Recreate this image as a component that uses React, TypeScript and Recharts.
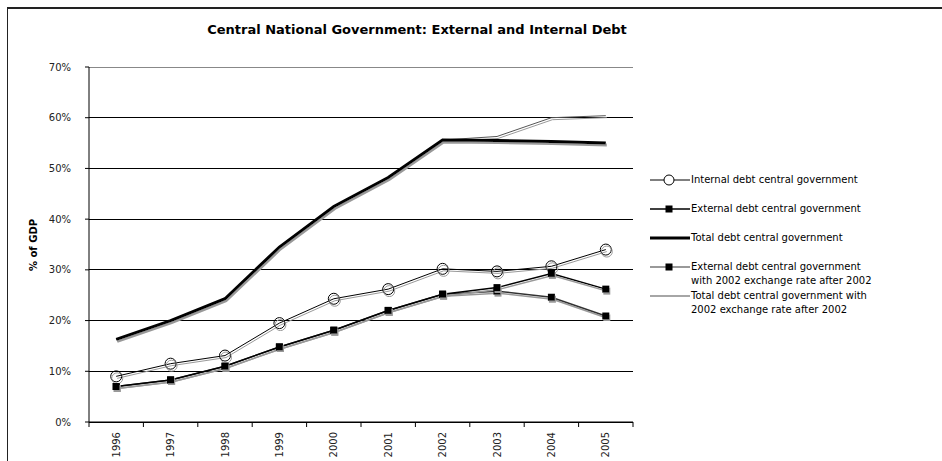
import React from 'react';
import { LineChart, Line, XAxis, YAxis, CartesianGrid, ReferenceLine } from 'recharts';

const years = ['1996', '1997', '1998', '1999', '2000', '2001', '2002', '2003', '2004', '2005'];
const internalDebt = [9.0, 11.5, 13.1, 19.5, 24.3, 26.2, 30.2, 29.7, 30.7, 34.0];
const externalDebt = [7.0, 8.3, 11.0, 14.8, 18.1, 22.0, 25.2, 26.5, 29.3, 26.2];
const totalDebt = [16.3, 20.0, 24.3, 34.5, 42.5, 48.2, 55.6, 55.5, 55.3, 55.0];
const externalFixedRate = [7.0, 8.3, 11.0, 14.8, 18.1, 22.0, 25.2, 25.8, 24.6, 20.9];
const totalFixedRate = [16.3, 20.0, 24.3, 34.5, 42.5, 48.2, 55.6, 56.3, 60.0, 60.4];
const yTicks = [0, 10, 20, 30, 40, 50, 60, 70];

const data = years.map((year, i) => ({
  year,
  internal: internalDebt[i],
  external: externalDebt[i],
  total: totalDebt[i],
  externalFixed: externalFixedRate[i],
  totalFixed: totalFixedRate[i],
}));

const legendItems = [
  { label: 'Internal debt central government', color: '#000', width: 1, marker: 'circle' },
  { label: 'External debt central government', color: '#000', width: 1.5, marker: 'square' },
  { label: 'Total debt central government', color: '#000', width: 3, marker: 'none' },
  { label: 'External debt central government\nwith 2002 exchange rate after 2002', color: '#777', width: 1.5, marker: 'square' },
  { label: 'Total debt central government with\n2002 exchange rate after 2002', color: '#888', width: 1.5, marker: 'none' },
];

const FONT = '"DejaVu Sans", Verdana, sans-serif';
const TICK_SIZE = 5;
const TICK_MARGIN = 5;

const YearTick = (props: any) => {
  const { x, y, payload, index } = props;
  const axisY = y - TICK_SIZE - TICK_MARGIN;
  const half = payload.offset || 0;
  const labelY = axisY + 10;
  return (
    <g>
      <line x1={x - half} y1={axisY} x2={x - half} y2={axisY + TICK_SIZE} stroke="#000" />
      {index === years.length - 1 && (
        <line x1={x + half} y1={axisY} x2={x + half} y2={axisY + TICK_SIZE} stroke="#000" />
      )}
      <text
        x={x}
        y={labelY}
        dy="0.35em"
        textAnchor="end"
        transform={`rotate(-90, ${x}, ${labelY})`}
        fontSize={10}
        fontFamily={FONT}
        fill="#222"
      >
        {payload.value}
      </text>
    </g>
  );
};

const Square = (props: any) => {
  const { cx, cy } = props;
  if (cx == null || cy == null) return null;
  return <rect x={cx - 3.5} y={cy - 3.5} width={7} height={7} fill="#000" filter="url(#shade)" />;
};

const Circle = (props: any) => {
  const { cx, cy } = props;
  if (cx == null || cy == null) return null;
  return <circle cx={cx} cy={cy} r={5.5} fill="none" stroke="#000" strokeWidth={1} filter="url(#shade)" />;
};

const LegendIcon = ({ item }: { item: (typeof legendItems)[number] }) => (
  <svg width={40} height={12} style={{ flex: 'none' }}>
    <line x1={0} y1={6} x2={40} y2={6} stroke={item.color} strokeWidth={item.width} />
    {item.marker === 'circle' && <circle cx={19} cy={6} r={5} fill="#fff" stroke="#000" />}
    {item.marker === 'square' && <rect x={15.5} y={2.5} width={7} height={7} fill="#000" />}
  </svg>
);

export default function App() {
  return (
    <div
      style={{
        position: 'absolute',
        left: 0,
        top: 0,
        width: 942,
        height: 461,
        overflow: 'hidden',
        background: '#fff',
        fontFamily: FONT,
      }}
    >
      <div
        style={{
          position: 'absolute',
          left: 7,
          top: 7,
          width: 960,
          height: 480,
          borderTop: '2px solid #222',
          borderLeft: '1px solid #222',
        }}
      />
      <div
        style={{
          position: 'absolute',
          left: 0,
          width: 834,
          top: 22,
          textAlign: 'center',
          fontSize: 13,
          fontWeight: 'bold',
          color: '#000',
        }}
      >
        Central National Government: External and Internal Debt
      </div>
      <div
        style={{
          position: 'absolute',
          left: 33,
          top: 245,
          transform: 'translate(-50%, -50%) rotate(-90deg)',
          fontSize: 10,
          fontWeight: 'bold',
          whiteSpace: 'nowrap',
          color: '#000',
        }}
      >
        % of GDP
      </div>
      <LineChart
        width={942}
        height={461}
        data={data}
        margin={{ top: 67, right: 309, bottom: 0, left: 0 }}
        style={{ position: 'absolute', left: 0, top: 0 }}
      >
        <defs>
          <filter id="shade" x="-20%" y="-20%" width="140%" height="140%">
            <feOffset in="SourceAlpha" dx="1" dy="1.5" result="off" />
            <feFlood floodColor="#999" />
            <feComposite in2="off" operator="in" result="shadow" />
            <feMerge>
              <feMergeNode in="shadow" />
              <feMergeNode in="SourceGraphic" />
            </feMerge>
          </filter>
        </defs>
        <CartesianGrid vertical={false} stroke="#000" shapeRendering="crispEdges" />
        <XAxis
          dataKey="year"
          scale="band"
          height={39}
          interval={0}
          tickLine={false}
          tickSize={TICK_SIZE}
          tickMargin={TICK_MARGIN}
          axisLine={{ stroke: '#000' }}
          tick={<YearTick />}
        />
        <YAxis
          width={89}
          domain={[0, 70]}
          ticks={yTicks}
          interval={0}
          tickSize={4}
          tickMargin={14}
          tickFormatter={(v: number) => `${v}%`}
          tick={{ fontSize: 10, fontFamily: FONT, fill: '#222' }}
          axisLine={{ stroke: '#000' }}
          tickLine={{ stroke: '#000' }}
        />
        <YAxis
          yAxisId="frame"
          orientation="right"
          width={0}
          domain={[0, 70]}
          tick={false}
          tickLine={false}
          axisLine={{ stroke: '#888' }}
        />
        <ReferenceLine y={70} stroke="#888" shapeRendering="crispEdges" />
        <Line
          dataKey="totalFixed"
          stroke="#555"
          strokeWidth={1}
          dot={false}
          filter="url(#shade)"
          isAnimationActive={false}
        />
        <Line
          dataKey="externalFixed"
          stroke="#333"
          strokeWidth={1.5}
          dot={<Square />}
          filter="url(#shade)"
          isAnimationActive={false}
        />
        <Line
          dataKey="internal"
          stroke="#000"
          strokeWidth={1}
          dot={<Circle />}
          filter="url(#shade)"
          isAnimationActive={false}
        />
        <Line
          dataKey="external"
          stroke="#000"
          strokeWidth={1.5}
          dot={<Square />}
          filter="url(#shade)"
          isAnimationActive={false}
        />
        <Line
          dataKey="total"
          stroke="#000"
          strokeWidth={3}
          dot={false}
          filter="url(#shade)"
          isAnimationActive={false}
        />
      </LineChart>
      <div style={{ position: 'absolute', left: 650, top: 174, fontSize: 10, color: '#000' }}>
        {legendItems.map((item, i) => (
          <div
            key={i}
            style={{
              display: 'flex',
              alignItems: 'flex-start',
              height: i < 4 ? 29 : 30,
            }}
          >
            <LegendIcon item={item} />
            <div style={{ whiteSpace: 'pre', lineHeight: '14px', marginLeft: 1, marginTop: -1 }}>
              {item.label}
            </div>
          </div>
        ))}
      </div>
    </div>
  );
}
